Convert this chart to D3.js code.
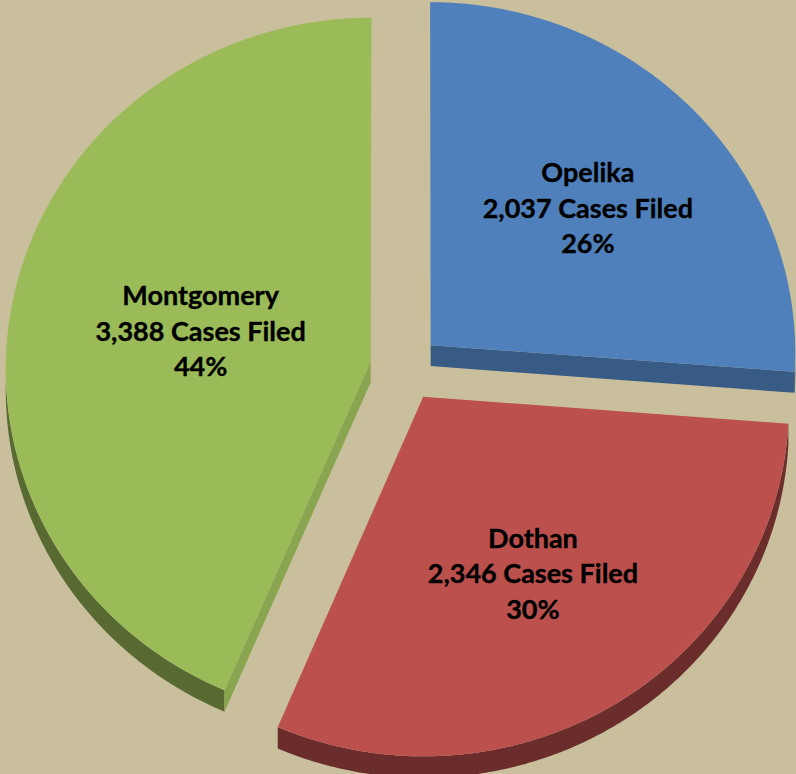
<!DOCTYPE html>
<html>
<head>
<meta charset="utf-8">
<script src="https://cdn.jsdelivr.net/npm/d3@7"></script>
<style>
  html, body { margin: 0; padding: 0; background: #c9bf9c; }
  svg { display: block; }
  .label { font-family: Lato, 'Open Sans', sans-serif; font-weight: 700; font-size: 27px; fill: #000; stroke: #000; stroke-width: 0.35px; }
</style>
</head>
<body>
<svg width="796" height="774"></svg>
<script>
// data
const regions = ['Opelika', 'Dothan', 'Montgomery'];
const cases = [2037, 2346, 3388];
const sliceColors = ['#4f80bb', '#bb504d', '#9bbb59'];

const W = 796, H = 774;
const cx = 405, cy = 368;   // pie centre on screen
const R = 365;              // radius in the pie plane
const tilt = 0.962;         // vertical squash of the tilted pie
const persp = 0.0206;       // small perspective: front of the pie looks bigger
const explode = 35;
const depth = 21;

const total = d3.sum(cases);
const rows = regions.map((r, i) => ({ region: r, value: cases[i], color: sliceColors[i] }));

const svg = d3.select('svg');
svg.append('rect').attr('width', W).attr('height', H).attr('fill', '#c9bf9c');

const pie = d3.pie().sort(null).value(d => d.value);
const arcs = pie(rows);

// plane coords -> screen
const proj = (p, h = 0) => {
  const m = 1 + persp * p[1] / R;
  return [cx + p[0] * m, cy + (p[1] * tilt + h) * m];
};
// point of a slice in the plane (angle clockwise from 12 o'clock)
const onPlane = (o, a, f = 1) => [o[0] + f * R * Math.sin(a), o[1] - f * R * Math.cos(a)];
const sweep = (a0, a1) => {
  const n = Math.max(2, Math.ceil((a1 - a0) / 0.01));
  return d3.range(n + 1).map(i => a0 + (a1 - a0) * i / n);
};
const poly = pts => 'M' + pts.map(p => p.map(v => v.toFixed(2)).join(',')).join('L') + 'Z';
const fmt = d3.format(',');

arcs.forEach(a => {
  a.mid = (a.startAngle + a.endAngle) / 2;
  a.origin = [explode * Math.sin(a.mid), -explode * Math.cos(a.mid)];
});

const slices = svg.selectAll('g.slice')
  .data(arcs)
  .enter()
  .append('g')
  .attr('class', 'slice');

slices.each(function (a) {
  const g = d3.select(this);
  const base = d3.color(a.data.color);

  // outer wall, only the front half shows
  const s = Math.max(a.startAngle, Math.PI / 2);
  const e = Math.min(a.endAngle, Math.PI * 1.5);
  if (s < e) {
    const angs = sweep(s, e);
    const topPts = angs.map(t => proj(onPlane(a.origin, t)));
    const botPts = angs.slice().reverse().map(t => proj(onPlane(a.origin, t), depth));
    g.append('path')
      .attr('d', poly(topPts.concat(botPts)))
      .attr('fill', base.darker(1.6));
  }

  // cut faces that turn towards the viewer
  const faces = [];
  if (Math.sin(a.startAngle) < -1e-6) faces.push({ ang: a.startAngle, nx: -Math.cos(a.startAngle) });
  if (Math.sin(a.endAngle) > 1e-6) faces.push({ ang: a.endAngle, nx: Math.cos(a.endAngle) });
  faces.forEach(f => {
    const p = onPlane(a.origin, f.ang);
    g.append('path')
      .attr('d', poly([proj(a.origin), proj(p), proj(p, depth), proj(a.origin, depth)]))
      .attr('fill', base.darker(0.9 - 0.6 * f.nx));
  });

  // top face
  const rim = sweep(a.startAngle, a.endAngle).map(t => proj(onPlane(a.origin, t)));
  g.append('path')
    .attr('d', poly([proj(a.origin)].concat(rim)))
    .attr('fill', a.data.color);
});

// labels at the sector centroid
const lineH = 35.5;
slices.append('text')
  .attr('class', 'label')
  .attr('text-anchor', 'middle')
  .each(function (a) {
    const half = (a.endAngle - a.startAngle) / 2;
    const f = (2 / 3) * Math.sin(half) / half;
    const [x, y] = proj(onPlane(a.origin, a.mid, f));
    const lines = [a.data.region, `${fmt(a.data.value)} Cases Filed`, `${Math.round(a.data.value / total * 100)}%`];
    d3.select(this).selectAll('tspan')
      .data(lines)
      .enter()
      .append('tspan')
      .attr('x', x)
      .attr('y', (d, i) => y + 13 + (i - 1) * lineH)
      .text(d => d);
  });
</script>
</body>
</html>
